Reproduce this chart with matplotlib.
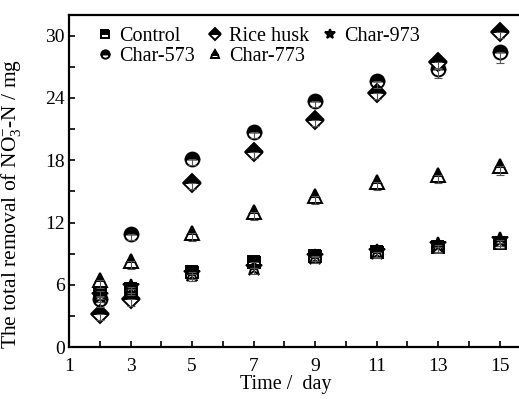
import matplotlib
matplotlib.use("Agg")
import matplotlib.pyplot as plt
import numpy as np

plt.rcParams['font.family'] = ['Liberation Serif', 'DejaVu Serif']
plt.rcParams['mathtext.fontset'] = 'custom'
plt.rcParams['mathtext.rm'] = 'Liberation Serif'
plt.rcParams['mathtext.it'] = 'Liberation Serif:italic'

days = [2, 3, 5, 7, 9, 11, 13, 15]
control = [5.4, 5.6, 7.2, 8.2, 8.8, 9.2, 9.6, 10.0]
control_err = [0.6, 0.6, 0.6, 0.6, 0.5, 0.5, 0.5, 0.5]
rice_husk = [3.2, 4.6, 15.8, 18.8, 21.9, 24.5, 27.5, 30.4]
rice_husk_err = [0.6, 0.6, 0.6, 0.6, 0.6, 0.6, 0.6, 0.6]
char973 = [4.9, 5.8, 7.0, 7.6, 8.7, 9.2, 9.8, 10.3]
char973_err = [0.6, 0.6, 0.6, 0.6, 0.6, 0.6, 0.6, 0.6]
char573 = [4.6, 10.9, 18.1, 20.7, 23.7, 25.6, 26.8, 28.4]
char573_err = [0.7, 0.6, 0.6, 0.6, 0.6, 0.6, 0.9, 1.0]
char773 = [6.5, 8.3, 11.0, 13.0, 14.6, 15.9, 16.6, 17.4]
char773_err = [0.8, 0.8, 0.8, 0.8, 0.8, 0.8, 0.8, 0.8]

xticks = [1, 3, 5, 7, 9, 11, 13, 15]
yticks = [0, 6, 12, 18, 24, 30]

fig = plt.figure(figsize=(5.19, 3.99), dpi=100)
ax = fig.add_axes([69/519, 52/399, 462/519, 332/399])

series = [
    ("Control", control, control_err, 's', 9),
    ("Char-573", char573, char573_err, 'o', 10),
    ("Rice husk", rice_husk, rice_husk_err, 'D', 9.5),
    ("Char-773", char773, char773_err, '^', 10.5),
    ("Char-973", char973, char973_err, '*', 12),
]

handles = []
for label, vals, err, m, ms in series:
    h, = ax.plot(days, vals, linestyle='none', marker=m, markersize=ms,
                 fillstyle='top', markerfacecolor='black',
                 markerfacecoloralt='white', markeredgecolor='black',
                 markeredgewidth=1.4, label=label, zorder=3)
    ax.errorbar(days, vals, yerr=[err, [0]*len(err)], fmt='none',
                ecolor='#555555', elinewidth=0.8, capsize=3, capthick=0.8,
                zorder=4)
    handles.append(h)

ax.set_xlim(1, 16.02)
ax.set_ylim(0, 32)
ax.set_xticks(range(1, 16))
ax.set_xticklabels([str(d) if d in xticks else '' for d in range(1, 16)])
ax.set_yticks(range(0, 32, 3))
ax.set_yticklabels([str(v) if v in yticks else '' for v in range(0, 32, 3)])
ax.tick_params(direction='in', length=4, width=1.2, labelsize=14)
ax.tick_params(axis='x', pad=8)
ax.tick_params(axis='y', pad=3)
for sp in ax.spines.values():
    sp.set_linewidth(1.6)

ax.set_xlabel("Time /  day", fontsize=14.5, labelpad=-4)
ax.xaxis.set_label_coords(0.47, -0.085)
ax.set_ylabel(r"The total removal of NO$_3^{-}$-N / mg", fontsize=15.5)
ax.yaxis.set_label_coords(-0.1, 0.43)

leg = ax.legend(handles=handles, loc='upper left', ncol=3, frameon=False,
                fontsize=14.5, handlelength=0.8, handletextpad=0.3,
                columnspacing=0.6, labelspacing=0.05, markerscale=0.6,
                borderaxespad=0.2, bbox_to_anchor=(0.035, 1.0))

fig.savefig("out.png", dpi=100)
